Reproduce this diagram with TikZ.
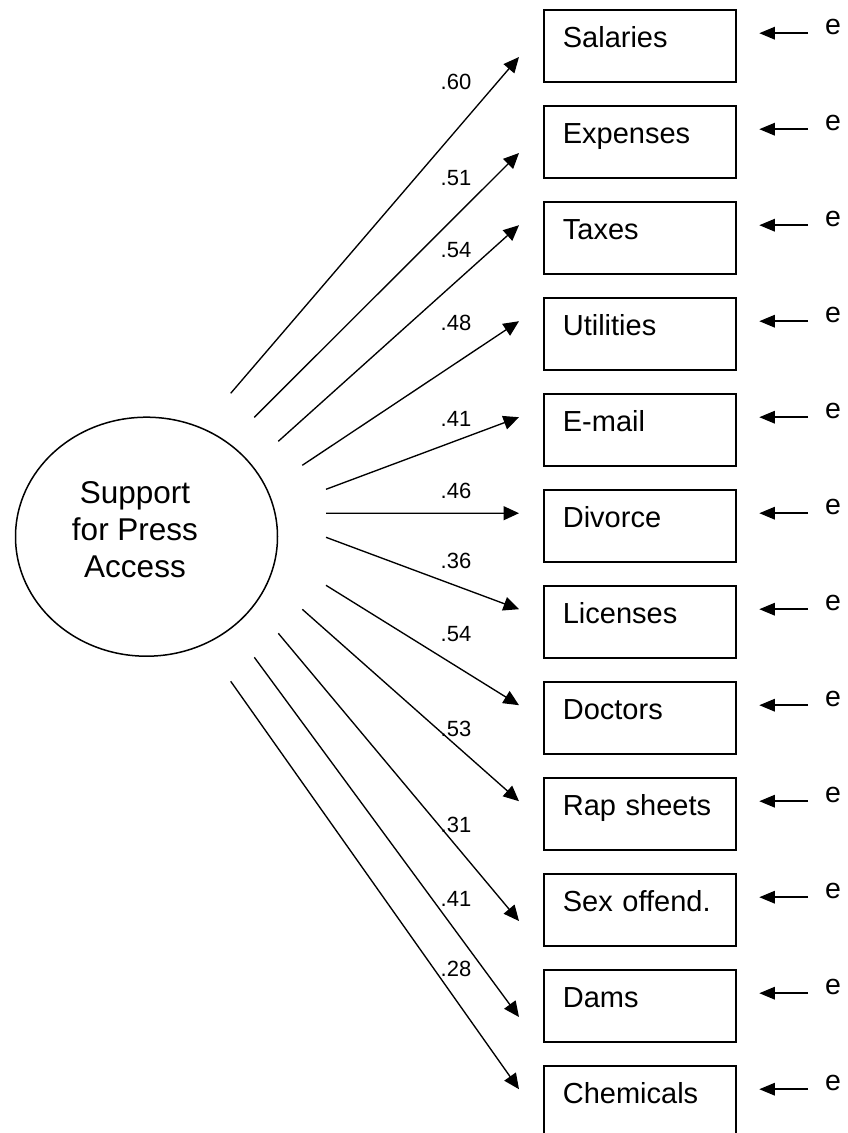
\documentclass[tikz,border=0pt]{standalone}
\usepackage{fontspec}
\setmainfont{Liberation Sans}
\usetikzlibrary{arrows.meta,shapes.geometric,calc}
\begin{document}
\begin{tikzpicture}[x=1pt,y=1pt,
  item/.style={draw, line width=1.7pt, rectangle, anchor=north west,
    minimum width=192.2pt, minimum height=72.3pt, inner xsep=19pt, inner ysep=0pt,
    text width=154.2pt, align=left, text height=4.1pt, text depth=0pt,
    font=\fontsize{29}{34}\selectfont},
  coef/.style={anchor=base west, inner sep=0pt, font=\fontsize{22}{26}\selectfont},
  errlabel/.style={anchor=base west, inner sep=0pt, font=\fontsize{28.5}{34}\selectfont},
  loading/.style={line width=1.35pt, -{Triangle[length=15.5pt,width=14pt]}},
  residual/.style={line width=1.5pt, -{Triangle[length=15.5pt,width=12.5pt]}}
]
\useasboundingbox (0,0) rectangle (848,-1133);

% latent factor
\node[draw, ellipse, line width=1.5pt, minimum width=262pt, minimum height=239pt,
      inner sep=0pt] (lat) at (146.5,-536.7) {};
\node[align=center, inner sep=0pt, font=\fontsize{31.5}{37}\selectfont]
      (latname) at (135,-529.3) {Support\\for Press\\Access};

% indicators, loadings and residual terms
\foreach \i/\name/\val/\lb/\tip/\tx/\ty in {
  0/Salaries/.60/89.3/48.2/230.7/393.3,
  1/Expenses/.51/185/48.2/254.3/417.3,
  2/Taxes/.54/257.7/24.4/278.3/441.3,
  3/Utilities/.48/330/24.4/302.3/465.3,
  4/E-mail/.41/426/24.4/326/489.3,
  5/Divorce/.46/498.3/24.4/326/513.3,
  6/Licenses/.36/568.3/24.4/326/537.3,
  7/Doctors/.54/641.7/24.4/326/585.3,
  8/Rap sheets/.53/736.7/24.4/302.3/609.3,
  9/Sex offend./.31/832.7/48.2/278.3/633.3,
  10/Dams/.41/906/48.2/254.3/657.3,
  11/Chemicals/.28/976.7/24.4/230.7/681.3}
{
  \pgfmathsetmacro\ytop{8.8+96*\i}
  \node[item] (b\i) at (543,-\ytop) {\name};
  \coordinate (t\i) at (\tx,-\ty);
  \coordinate (p\i) at (519,-\ytop-\tip);
  \draw[loading] (t\i) -- (p\i);
  \node[coef] (c\i) at (440.5,-\lb) {\val};
  \node[errlabel] (e\i) at (824.8,-\ytop-25.3) {e};
  \coordinate (s\i) at (808,-\ytop-24.4);
  \coordinate (f\i) at (759.3,-\ytop-24.4);
  \draw[residual] (s\i) -- (f\i);
}
\end{tikzpicture}
\end{document}
